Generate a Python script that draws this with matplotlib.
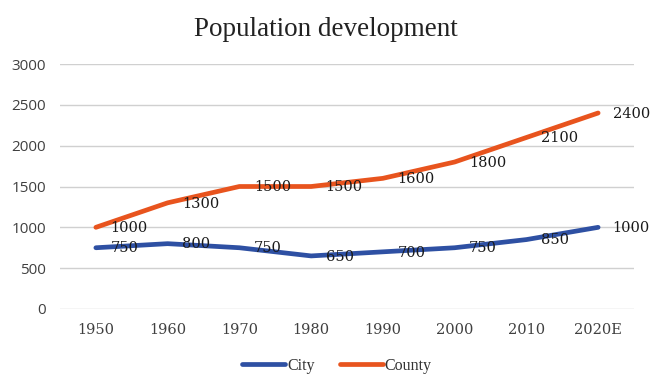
import matplotlib
matplotlib.use("Agg")
import matplotlib.pyplot as plt

years = ["1950", "1960", "1970", "1980", "1990", "2000", "2010", "2020E"]
city = [750, 800, 750, 650, 700, 750, 850, 1000]
county = [1000, 1300, 1500, 1500, 1600, 1800, 2100, 2400]
yticks = [0, 500, 1000, 1500, 2000, 2500, 3000]

serif_digits = ['DejaVu Serif']
serif_text = ['Liberation Serif', 'DejaVu Serif']
sans = ['Open Sans', 'DejaVu Sans']

fig = plt.figure(figsize=(6.52, 3.89), dpi=100)
ax = fig.add_axes([60/652, 1-309/389, 574/652, 245/389])
x = list(range(len(years)))
c_city = "#2E50A3"
c_county = "#E8541E"
ax.plot(x, city, color=c_city, lw=3.4, solid_capstyle='round', label="City", zorder=3)
ax.plot(x, county, color=c_county, lw=3.4, solid_capstyle='round', label="County", zorder=3)

for series in (city, county):
    for xi, v in zip(x, series):
        ax.annotate(str(v), (xi, v), xytext=(10.5, -0.5), textcoords='offset points',
                    ha='left', va='center', fontsize=10.5, color='#1a1a1a', zorder=4,
                    family=serif_digits)

ax.set_xlim(-0.5, 7.5)
ax.set_ylim(0, 3000)
ax.set_yticks(yticks)
ax.set_xticks(x)
ax.set_xticklabels(years)
ax.grid(axis='y', color='#d0d0d0', lw=1)
ax.set_axisbelow(True)
for s in ax.spines.values():
    s.set_visible(False)
ax.tick_params(length=0, colors='#404040')
ax.tick_params(axis='y', pad=10)
ax.tick_params(axis='x', pad=10)
for t in ax.get_yticklabels():
    t.set_fontfamily(sans)
    t.set_fontsize(11)
for t in ax.get_xticklabels():
    t.set_fontfamily(serif_digits)
    t.set_fontsize(10.5)

fig.text(0.5, 1-29/389, "Population development", ha='center', va='center',
         fontsize=19.5, color='#222222', family=serif_text)
leg = fig.legend(loc='center', bbox_to_anchor=(337/652, 1-366/389), ncol=2, frameon=False,
                 prop={'family': serif_text, 'size': 11.5}, handlelength=2.7,
                 columnspacing=1.6, handletextpad=0.1)
for t in leg.get_texts():
    t.set_color('#333333')
for l in leg.get_lines():
    l.set_linewidth(3.4)

fig.savefig("out.png", dpi=100)
